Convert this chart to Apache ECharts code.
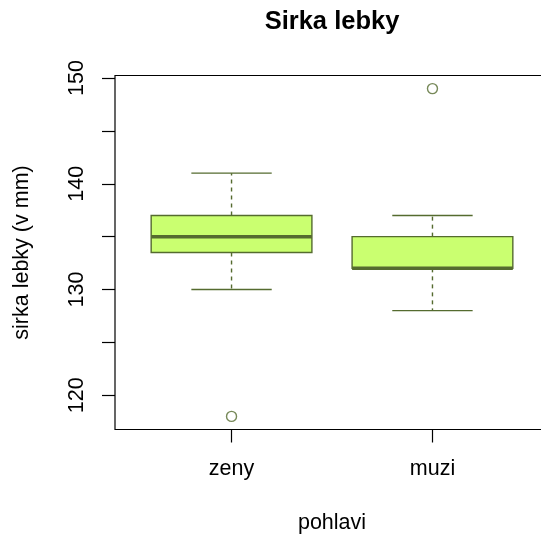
<!DOCTYPE html>
<html>
<head>
<meta charset="utf-8">
<script src="https://cdn.jsdelivr.net/npm/echarts@6/dist/echarts.min.js"></script>
<style>html,body{margin:0;padding:0;background:#fff}#c{width:541px;height:541px}</style>
</head>
<body>
<div id="c"></div>
<script>
// ---- data ----
var categories = ['zeny', 'muzi'];
var lowerWhisker = [130, 128];
var q1 = [133.5, 132];
var median = [135, 132];
var q3 = [137, 135];
var upperWhisker = [141, 137];
var outliers = [[118], [149]];
var yTicks = [120, 125, 130, 135, 140, 145, 150];
var yLabels = [120, 130, 140, 150];

var FONT = 'Liberation Sans, Arial, sans-serif';
var LINE = '#556B2F';
var FILL = '#CAFF70';

var boxData = categories.map(function (c, i) {
  return [i + 1, lowerWhisker[i], q1[i], median[i], q3[i], upperWhisker[i]];
});
var outlierData = [];
outliers.forEach(function (arr, i) {
  arr.forEach(function (v) { outlierData.push([i + 1, v]); });
});

function renderBox(params, api) {
  var x = api.value(0);
  var lw = api.coord([x, api.value(1)]);
  var b1 = api.coord([x, api.value(2)]);
  var md = api.coord([x, api.value(3)]);
  var b3 = api.coord([x, api.value(4)]);
  var uw = api.coord([x, api.value(5)]);
  var boxW = api.size([0.8, 0])[0];
  var capW = api.size([0.4, 0])[0];
  var cx = lw[0];
  var children = [
    {type: 'line', shape: {x1: cx, y1: b1[1], x2: cx, y2: lw[1]},
     style: {stroke: LINE, lineWidth: 1.4, lineDash: [4, 4]}},
    {type: 'line', shape: {x1: cx, y1: b3[1], x2: cx, y2: uw[1]},
     style: {stroke: LINE, lineWidth: 1.4, lineDash: [4, 4]}},
    {type: 'line', shape: {x1: cx - capW / 2, y1: lw[1], x2: cx + capW / 2, y2: lw[1]},
     style: {stroke: LINE, lineWidth: 1.3}},
    {type: 'line', shape: {x1: cx - capW / 2, y1: uw[1], x2: cx + capW / 2, y2: uw[1]},
     style: {stroke: LINE, lineWidth: 1.3}},
    {type: 'rect', shape: {x: cx - boxW / 2, y: b3[1], width: boxW, height: b1[1] - b3[1]},
     style: {fill: FILL, stroke: LINE, lineWidth: 1.4}},
    {type: 'line', shape: {x1: cx - boxW / 2, y1: md[1], x2: cx + boxW / 2, y2: md[1]},
     style: {stroke: LINE, lineWidth: 3.5}}
  ];
  return {type: 'group', children: children};
}

var chart = echarts.init(document.getElementById('c'), null, {renderer: 'canvas'});
chart.setOption({
  animation: false,
  backgroundColor: '#fff',
  title: {
    text: 'Sirka lebky',
    left: 332, top: 9, textAlign: 'center', padding: 0,
    textStyle: {fontFamily: FONT, fontSize: 25.5, fontWeight: 'bold', color: '#000', lineHeight: 25.5}
  },
  grid: {
    show: true, left: 115, top: 75.5, width: 434, height: 354,
    containLabel: false, outerBoundsMode: 'none',
    borderColor: '#000', borderWidth: 1.2, backgroundColor: 'transparent'
  },
  xAxis: {
    type: 'value', min: 0.42, max: 2.58,
    name: 'pohlavi', nameLocation: 'middle', nameGap: 83,
    nameTextStyle: {fontFamily: FONT, fontSize: 21.5, color: '#000', lineHeight: 21.5},
    axisLine: {show: false},
    splitLine: {show: false},
    axisTick: {show: true, length: 13, customValues: [1, 2], lineStyle: {color: '#000', width: 1.2}},
    axisLabel: {
      customValues: [1, 2], margin: 29,
      fontFamily: FONT, fontSize: 21.5, color: '#000', lineHeight: 21.5,
      formatter: function (v) { return categories[Math.round(v) - 1] || ''; }
    }
  },
  yAxis: {
    type: 'value', min: 116.76, max: 150.24,
    name: 'sirka lebky (v mm)', nameLocation: 'middle', nameGap: 82, nameRotate: 90,
    nameTextStyle: {fontFamily: FONT, fontSize: 21.5, color: '#000', lineHeight: 21.5},
    axisLine: {show: false},
    splitLine: {show: false},
    axisTick: {show: true, length: 13, customValues: yTicks, lineStyle: {color: '#000', width: 1.2}},
    axisLabel: {
      customValues: yLabels, rotate: 90, margin: 27,
      fontFamily: FONT, fontSize: 21.5, color: '#000', lineHeight: 21.5
    }
  },
  series: [
    {type: 'custom', renderItem: renderBox, data: boxData, encode: {x: 0, y: [1, 2, 3, 4, 5]}, clip: false},
    {type: 'scatter', data: outlierData, symbol: 'circle', symbolSize: 10,
     itemStyle: {color: 'transparent', borderColor: LINE, borderWidth: 1.4}}
  ]
});
</script>
</body>
</html>
